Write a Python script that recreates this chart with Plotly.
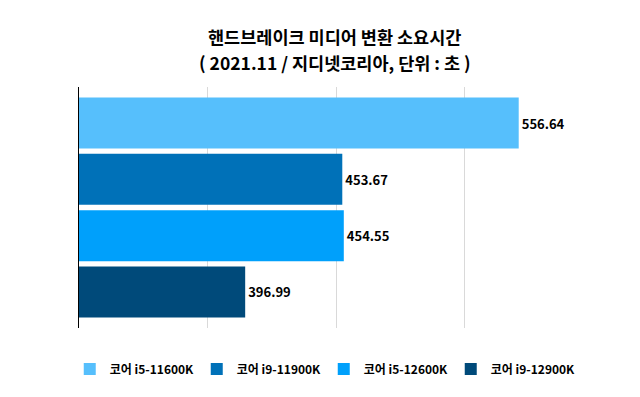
import plotly.graph_objects as go

categories = ["코어 i5-11600K", "코어 i9-11900K", "코어 i5-12600K", "코어 i9-12900K"]
values = [556.64, 453.67, 454.55, 396.99]
colors = ["#56BFFC", "#0071B8", "#00A0FB", "#004A7A"]
title_lines = ["핸드브레이크 미디어 변환 소요시간", "( 2021.11 / 지디넷코리아, 단위 : 초 )"]
x_ticks = [300, 375, 450, 525, 600]

FONT = "Noto Sans CJK KR"

fig = go.Figure()
for name, v, c in zip(categories, values, colors):
    fig.add_trace(go.Bar(
        y=[name], x=[v], name=name, orientation="h",
        marker=dict(color=c, line=dict(width=0)),
        width=0.905,
        text=[f"{v:.2f}"], textposition="outside",
        textfont=dict(family=FONT, size=13, color="#000000", weight="bold"),
        cliponaxis=False,
    ))

for txt, yy in zip(title_lines, [1.2075, 1.1037]):
    fig.add_annotation(
        text=txt, xref="paper", yref="paper", x=0.498, y=yy,
        xanchor="center", yanchor="middle", showarrow=False,
        font=dict(family=FONT, size=17.5, color="#000000", weight="bold"),
    )

fig.update_layout(
    width=640, height=397,
    margin=dict(l=71, r=55, t=79, b=77, autoexpand=False),
    paper_bgcolor="white", plot_bgcolor="white",
    showlegend=True,
    legend=dict(
        orientation="h", x=-0.018, xanchor="left", y=-0.17, yanchor="middle",
        font=dict(family=FONT, size=12, color="#000000", weight="bold"),
        traceorder="normal", itemwidth=30, entrywidth=82,
    ),
    barmode="overlay",
    xaxis=dict(
        range=[300, 600], tickvals=x_ticks, showticklabels=False,
        showgrid=True, gridcolor="#D9D9D9", gridwidth=1,
        zeroline=False, showline=False, ticks="",
    ),
    yaxis=dict(
        categoryorder="array", categoryarray=categories,
        autorange=False, range=[3.64, -0.64],
        showticklabels=False, showgrid=False, zeroline=False,
        showline=True, linecolor="#000000", linewidth=1, ticks="",
    ),
)

fig.write_html("out.html")
